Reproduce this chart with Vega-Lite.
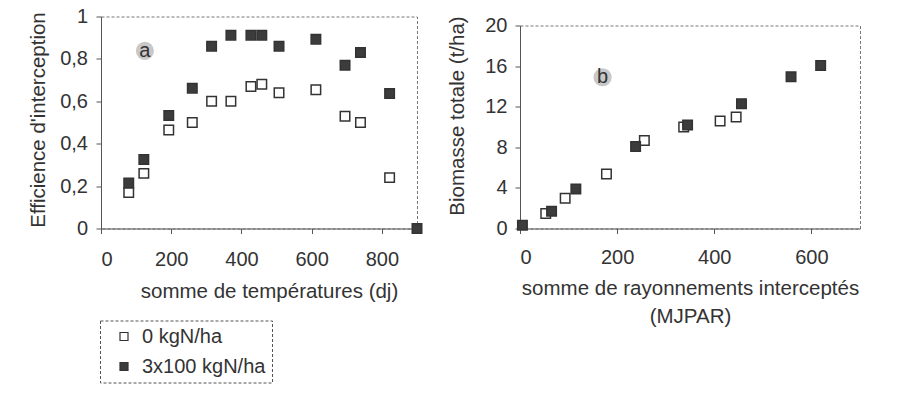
{
  "$schema": "https://vega.github.io/schema/vega-lite/v6.json",
  "padding": {"left": 28, "top": 5.5, "right": 0, "bottom": 0},
  "background": "white",
  "spacing": 21,
  "datasets": {
    "left": [
      {"x": 79, "y": 0.17, "series": "0 kgN/ha"},
      {"x": 122, "y": 0.26, "series": "0 kgN/ha"},
      {"x": 193, "y": 0.465, "series": "0 kgN/ha"},
      {"x": 260, "y": 0.5, "series": "0 kgN/ha"},
      {"x": 315, "y": 0.6, "series": "0 kgN/ha"},
      {"x": 370, "y": 0.6, "series": "0 kgN/ha"},
      {"x": 427, "y": 0.67, "series": "0 kgN/ha"},
      {"x": 458, "y": 0.68, "series": "0 kgN/ha"},
      {"x": 507, "y": 0.64, "series": "0 kgN/ha"},
      {"x": 612, "y": 0.655, "series": "0 kgN/ha"},
      {"x": 695, "y": 0.53, "series": "0 kgN/ha"},
      {"x": 739, "y": 0.5, "series": "0 kgN/ha"},
      {"x": 822, "y": 0.24, "series": "0 kgN/ha"},
      {"x": 79, "y": 0.215, "series": "3x100 kgN/ha"},
      {"x": 122, "y": 0.325, "series": "3x100 kgN/ha"},
      {"x": 193, "y": 0.533, "series": "3x100 kgN/ha"},
      {"x": 260, "y": 0.662, "series": "3x100 kgN/ha"},
      {"x": 315, "y": 0.86, "series": "3x100 kgN/ha"},
      {"x": 370, "y": 0.912, "series": "3x100 kgN/ha"},
      {"x": 427, "y": 0.912, "series": "3x100 kgN/ha"},
      {"x": 458, "y": 0.912, "series": "3x100 kgN/ha"},
      {"x": 507, "y": 0.86, "series": "3x100 kgN/ha"},
      {"x": 612, "y": 0.893, "series": "3x100 kgN/ha"},
      {"x": 695, "y": 0.77, "series": "3x100 kgN/ha"},
      {"x": 739, "y": 0.83, "series": "3x100 kgN/ha"},
      {"x": 822, "y": 0.637, "series": "3x100 kgN/ha"},
      {"x": 900, "y": 0, "series": "3x100 kgN/ha"}
    ],
    "right": [
      {"x": 53, "y": 1.47, "series": "0 kgN/ha"},
      {"x": 93, "y": 2.98, "series": "0 kgN/ha"},
      {"x": 178, "y": 5.37, "series": "0 kgN/ha"},
      {"x": 256, "y": 8.66, "series": "0 kgN/ha"},
      {"x": 337, "y": 10.0, "series": "0 kgN/ha"},
      {"x": 412, "y": 10.6, "series": "0 kgN/ha"},
      {"x": 445, "y": 10.98, "series": "0 kgN/ha"},
      {"x": 5, "y": 0.32, "series": "3x100 kgN/ha"},
      {"x": 65, "y": 1.7, "series": "3x100 kgN/ha"},
      {"x": 115, "y": 3.9, "series": "3x100 kgN/ha"},
      {"x": 238, "y": 8.07, "series": "3x100 kgN/ha"},
      {"x": 345, "y": 10.2, "series": "3x100 kgN/ha"},
      {"x": 456, "y": 12.3, "series": "3x100 kgN/ha"},
      {"x": 558, "y": 14.95, "series": "3x100 kgN/ha"},
      {"x": 619, "y": 16.07, "series": "3x100 kgN/ha"}
    ],
    "annotLeft": [{"x": 125, "y": 0.838, "label": "a"}],
    "annotRight": [{"x": 170, "y": 14.9, "label": "b"}],
    "empty": []
  },
  "config": {
    "font": "Liberation Sans",
    "view": {"stroke": "#777", "strokeDash": [3, 2]},
    "axis": {
      "labelFontSize": 20, "titleFontSize": 20.5, "labelColor": "#333", "titleColor": "#333",
      "domainColor": "#555", "tickColor": "#555", "grid": false, "titleFontWeight": "normal",
      "tickSize": 5, "labelFont": "Liberation Sans", "titleFont": "Liberation Sans"
    },
    "legend": {"strokeColor": "#555", "strokeDash": [3, 2], "fillColor": "white"}
  },
  "resolve": {"scale": {"fill": "independent"}, "legend": {"fill": "independent"}},
  "hconcat": [
    {
      "width": 316,
      "height": 212,
      "layer": [
        {
          "data": {"name": "annotLeft"},
          "mark": {"type": "point", "shape": "circle", "filled": true, "size": 330, "color": "#c8c8c8", "opacity": 1},
          "encoding": {
            "x": {"field": "x", "type": "quantitative"},
            "y": {"field": "y", "type": "quantitative"}
          }
        },
        {
          "data": {"name": "annotLeft"},
          "mark": {"type": "text", "fontSize": 20, "color": "#333"},
          "encoding": {
            "x": {"field": "x", "type": "quantitative"},
            "y": {"field": "y", "type": "quantitative"},
            "text": {"field": "label"}
          }
        },
        {
          "data": {"name": "left"},
          "mark": {"type": "point", "shape": "square", "filled": true, "size": 90, "stroke": "#333", "strokeWidth": 1.5, "opacity": 1},
          "encoding": {
            "x": {"field": "x", "type": "quantitative", "scale": {"domain": [0, 900], "nice": false},
              "axis": {"values": [0, 200, 400, 600, 800], "title": "somme de températures (dj)", "labelPadding": 16, "titlePadding": 12, "titleX": 168}},
            "y": {"field": "y", "type": "quantitative", "scale": {"domain": [0, 1], "nice": false},
              "axis": {"values": [0, 0.2, 0.4, 0.6, 0.8, 1], "format": "~g", "labelExpr": "replace(datum.label, '.', ',')", "title": "Efficience d'interception", "labelPadding": 8.5, "titlePadding": 11, "titleY": 103}},
            "fill": {"field": "series", "type": "nominal",
              "scale": {"domain": ["0 kgN/ha", "3x100 kgN/ha"], "range": ["white", "#3c3c3c"]},
              "legend": {"orient": "none", "legendX": -1, "legendY": 304, "title": " ", "titleOrient": "left", "titleFontSize": 20, "titlePadding": 8,
                "labelFontSize": 20, "labelColor": "#333", "labelFont": "Liberation Sans", "symbolSize": 64, "symbolType": "square",
                "labelExpr": "datum.label + '\u00a0\u00a0'",
                "symbolStrokeColor": "#333", "symbolStrokeWidth": 1.2, "padding": 6, "rowPadding": 10, "labelOffset": 8}}
          }
        }
      ]
    },
    {
      "spacing": -3,
      "vconcat": [
        {
          "width": 340,
          "height": 1,
          "view": {"stroke": null},
          "data": {"name": "empty"},
          "mark": {"type": "point"},
          "encoding": {}
        },
        {
          "width": 340,
          "height": 203,
          "layer": [
            {
              "data": {"name": "annotRight"},
              "mark": {"type": "point", "shape": "circle", "filled": true, "size": 330, "color": "#c8c8c8", "opacity": 1},
              "encoding": {
                "x": {"field": "x", "type": "quantitative"},
                "y": {"field": "y", "type": "quantitative"}
              }
            },
            {
              "data": {"name": "annotRight"},
              "mark": {"type": "text", "fontSize": 20, "color": "#333"},
              "encoding": {
                "x": {"field": "x", "type": "quantitative"},
                "y": {"field": "y", "type": "quantitative"},
                "text": {"field": "label"}
              }
            },
            {
              "data": {"name": "right"},
              "mark": {"type": "point", "shape": "square", "filled": true, "size": 90, "stroke": "#333", "strokeWidth": 1.5, "opacity": 1},
              "encoding": {
                "x": {"field": "x", "type": "quantitative", "scale": {"domain": [0, 700], "nice": false},
                  "axis": {"values": [0, 200, 400, 600], "title": ["somme de rayonnements interceptés", "(MJPAR)"], "labelPadding": 13.7, "titlePadding": 11, "titleLineHeight": 28}},
                "y": {"field": "y", "type": "quantitative", "scale": {"domain": [0, 20], "nice": false},
                  "axis": {"values": [0, 4, 8, 12, 16, 20], "title": "Biomasse totale (t/ha)", "labelPadding": 8, "titlePadding": 17, "titleY": 90}},
                "fill": {"field": "series", "type": "nominal",
                  "scale": {"domain": ["0 kgN/ha", "3x100 kgN/ha"], "range": ["white", "#3c3c3c"]},
                  "legend": null}
              }
            }
          ]
        }
      ]
    }
  ]
}
